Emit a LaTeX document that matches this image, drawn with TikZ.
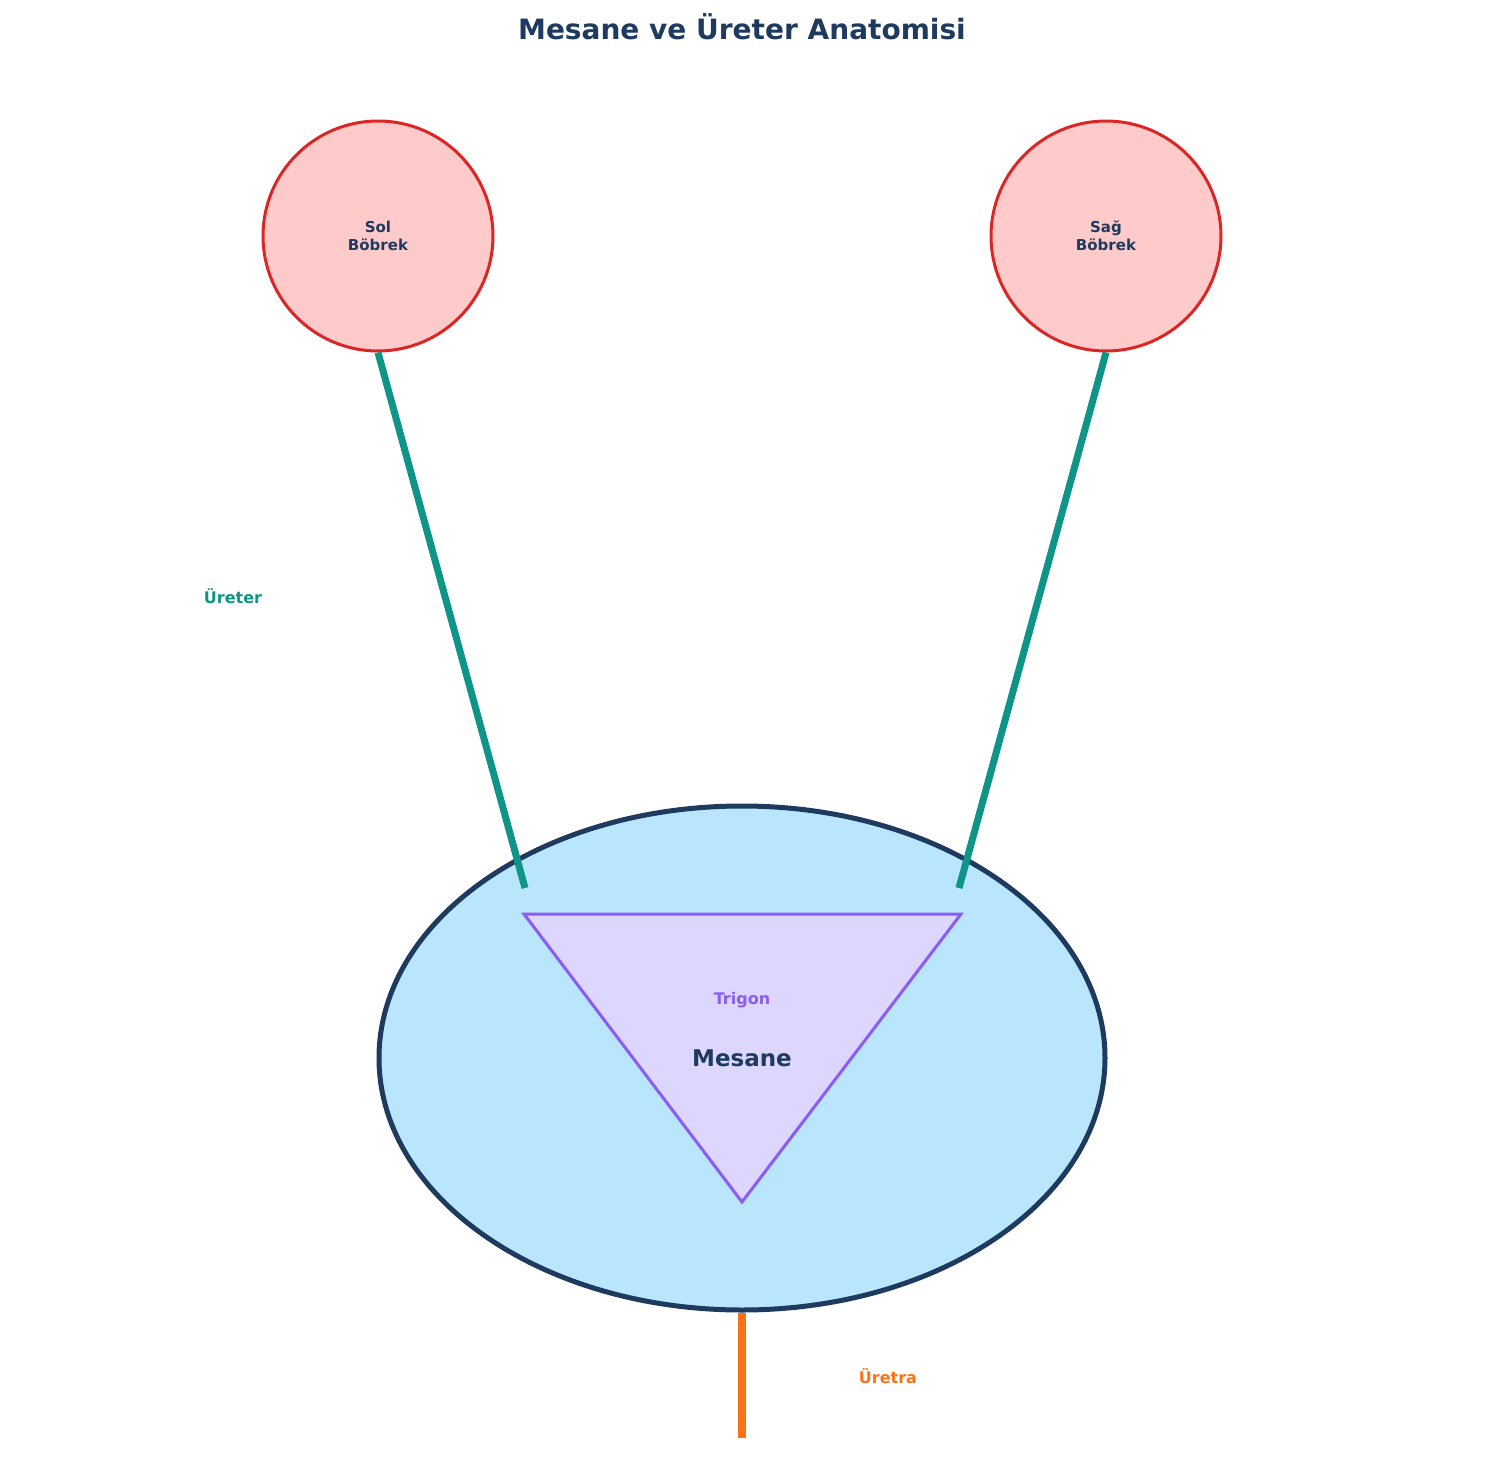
\documentclass[tikz,border=0pt]{standalone}
\usepackage{fontspec}
\setmainfont{DejaVu Sans}
\usetikzlibrary{shapes.geometric}
\definecolor{navy}{HTML}{1E3A5F}
\definecolor{kfill}{HTML}{FECACA}
\definecolor{kline}{HTML}{DC2626}
\definecolor{bfill}{HTML}{BAE6FD}
\definecolor{tfill}{HTML}{DDD6FE}
\definecolor{tline}{HTML}{8B5CF6}
\definecolor{teal}{HTML}{0F9488}
\definecolor{orng}{HTML}{F97316}
\begin{document}
\begin{tikzpicture}[x=0.5pt,y=-0.5pt,
  kidney/.style={circle,draw=kline,fill=kfill,line width=1.5pt,minimum size=115pt,inner sep=0pt,align=center,text=navy,font=\bfseries\fontsize{7.5}{9}\selectfont},
  ureter/.style={draw=teal,line width=3.5pt},
  lbl/.style={font=\bfseries\fontsize{8}{10}\selectfont}]
\useasboundingbox (0,0) rectangle (1485,1478);
\node[font=\bfseries\fontsize{14}{16}\selectfont,text=navy] (title) at (742,27) {Mesane ve Üreter Anatomisi};
\node[ellipse,draw=navy,fill=bfill,line width=2.5pt,minimum width=363pt,minimum height=252pt,inner sep=0pt] (bladder) at (742,1058) {};
\draw[draw=tline,fill=tfill,line width=1.5pt] (524,914) coordinate (t1) -- (961,914) coordinate (t2) -- (742,1202) coordinate (t3) -- cycle;
\node[kidney] (lk) at (378,236) {Sol\\Böbrek};
\node[kidney] (rk) at (1106,236) {Sağ\\Böbrek};
\coordinate (le) at (525,888);
\coordinate (re) at (959,888);
\draw[ureter] (lk.south) -- (le);
\draw[ureter] (rk.south) -- (re);
\coordinate (ue) at (742,1438);
\draw[draw=orng,line width=4pt] (bladder.south) -- (ue);
\node[lbl,text=teal] (ul) at (233,596) {Üreter};
\node[lbl,text=orng] (ual) at (888,1376) {Üretra};
\node[lbl,text=tline] (tl) at (742,1000) {Trigon};
\node[font=\bfseries\fontsize{11.5}{13}\selectfont,text=navy] (ml) at (742,1058) {Mesane};
\end{tikzpicture}
\end{document}
